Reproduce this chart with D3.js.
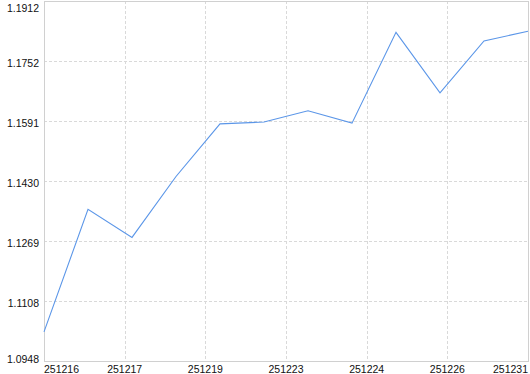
<!DOCTYPE html>
<html lang="en">
<head>
    <meta charset="UTF-8">
    <title>Line</title>
    <script src="https://cdnjs.cloudflare.com/ajax/libs/d3/7.8.5/d3.min.js"></script>
    <style>
        body { margin: 0; background: #fff; }
        text { font-family: "Liberation Sans", Arial, sans-serif; font-size: 10.5px; fill: #111; }
    </style>
</head>
<body>

<div id="chart"></div>

<script>
    var width = 530;
    var height = 374;

    // values, one per trading day
    var values = [1.1026, 1.1354, 1.1279, 1.1442, 1.1583, 1.1588, 1.1618, 1.1585, 1.1828, 1.1666, 1.1805, 1.1831];
    var xTickLabels = ["251216", "251217", "251219", "251223", "251224", "251226", "251231"];
    var yTicks = [1.0948, 1.1108, 1.1269, 1.1430, 1.1591, 1.1752, 1.1912];

    // plot box (window.top is reserved, hence the prefix)
    var plotLeft = 44, plotRight = 528, plotTop = 1, plotBottom = 361;

    var svg = d3.select("#chart")
        .append("svg")
        .attr("width", width)
        .attr("height", height);

    var x = d3.scaleLinear()
        .domain([0, values.length - 1])
        .range([plotLeft, plotRight]);

    var y = d3.scaleLinear()
        .domain([yTicks[0], yTicks[yTicks.length - 1]])
        .range([plotBottom, plotTop]);

    // x ticks sit at even steps across the index range
    var xTickPos = xTickLabels.map(function(d, i) {
        return i * (values.length - 1) / (xTickLabels.length - 1);
    });

    var grid = svg.append("g")
        .attr("stroke", "#d9d9d9")
        .attr("stroke-dasharray", "3,2")
        .attr("shape-rendering", "crispEdges");

    grid.selectAll(".gy")
        .data(yTicks.slice(1, -1))
        .enter()
        .append("line")
        .attr("x1", plotLeft).attr("x2", plotRight)
        .attr("y1", function(d) { return Math.round(y(d)) + 0.5; })
        .attr("y2", function(d) { return Math.round(y(d)) + 0.5; });

    grid.selectAll(".gx")
        .data(xTickPos.slice(1, -1))
        .enter()
        .append("line")
        .attr("y1", plotTop).attr("y2", plotBottom)
        .attr("x1", function(d) { return Math.round(x(d)) + 0.5; })
        .attr("x2", function(d) { return Math.round(x(d)) + 0.5; });

    // frame round the plot
    svg.append("rect")
        .attr("x", plotLeft + 0.5)
        .attr("y", plotTop + 0.5)
        .attr("width", plotRight - plotLeft)
        .attr("height", plotBottom - plotTop)
        .attr("fill", "none")
        .attr("stroke", "#d0d0d0")
        .attr("shape-rendering", "crispEdges");

    var line = d3.line()
        .x(function(d, i) { return x(i); })
        .y(function(d) { return y(d); });

    svg.append("path")
        .datum(values)
        .attr("d", line)
        .attr("fill", "none")
        .attr("stroke", "#5b96e8")
        .attr("stroke-width", 1.1);

    svg.selectAll(".ylab")
        .data(yTicks)
        .enter()
        .append("text")
        .attr("x", 39)
        .attr("y", function(d) { return Math.min(363, Math.max(12, y(d) + 6)); })
        .attr("text-anchor", "end")
        .text(function(d) { return d.toFixed(4); });

    svg.selectAll(".xlab")
        .data(xTickLabels)
        .enter()
        .append("text")
        .attr("x", function(d, i) { return x(xTickPos[i]); })
        .attr("y", 373)
        .attr("text-anchor", function(d, i) {
            if (i === 0) return "start";
            if (i === xTickLabels.length - 1) return "end";
            return "middle";
        })
        .text(function(d) { return d; });
</script>

</body>
</html>
